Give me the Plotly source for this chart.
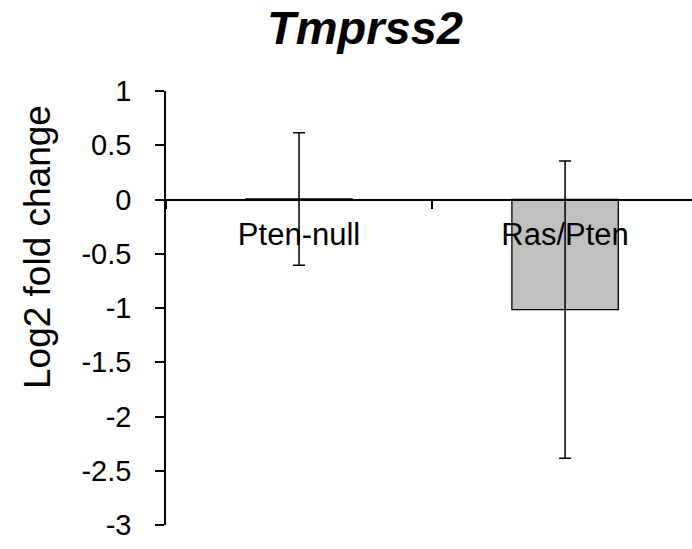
import plotly.graph_objects as go

categories = ["Pten-null", "Ras/Pten"]
values = [0.005, -1.015]
errors = [0.61, 1.37]
y_min, y_max = -3, 1
tick_vals = [1, 0.5, 0, -0.5, -1, -1.5, -2, -2.5, -3]
tick_text = ["1", "0.5", "0", "-0.5", "-1", "-1.5", "-2", "-2.5", "-3"]

FONT = "Arial, Liberation Sans, sans-serif"

W, H = 692, 549
ML, MR, MT, MB = 166, 0, 91, 24
PW, PH = W - ML - MR, H - MT - MB

fig = go.Figure()
fig.add_trace(go.Bar(
    x=categories, y=values, width=0.4,
    marker=dict(color="#C0C0C0", line=dict(color="black", width=1.3)),
    error_y=dict(type="data", array=errors, visible=True,
                 color="black", thickness=1.5, width=6),
    showlegend=False,
))

zero_pos = (0 - y_min) / (y_max - y_min)

fig.update_layout(
    template="none",
    width=W, height=H,
    paper_bgcolor="white", plot_bgcolor="white",
    margin=dict(l=ML, r=MR, t=MT, b=MB),
    font=dict(family=FONT, color="black"),
    title=dict(text="<b><i>Tmprss2</i></b>", font=dict(size=47, family=FONT, color="black"),
               x=365/W, xref="container", xanchor="center",
               y=1 - 28/H, yref="container", yanchor="middle"),
    xaxis=dict(type="category", range=[-0.5, 1.477], anchor="free", position=zero_pos,
               automargin=False,
               showline=True, linecolor="black", linewidth=1.5,
               ticks="outside", tickson="boundaries", ticklen=9, tickwidth=1.5, tickcolor="black",
               tickfont=dict(size=31, family=FONT, color="black"),
               ticklabelstandoff=8,
               showgrid=False, zeroline=False, layer="above traces"),
    yaxis=dict(range=[y_min, y_max], tickvals=tick_vals, ticktext=tick_text,
               automargin=False,
               showline=True, linecolor="black", linewidth=1.5,
               ticks="outside", ticklen=9, tickwidth=1.5, tickcolor="black",
               tickfont=dict(size=29, family=FONT, color="black"),
               ticklabelstandoff=18,
               showgrid=False, zeroline=False),
    annotations=[dict(text="Log2 fold change", textangle=-90, showarrow=False,
                      xref="paper", yref="paper",
                      x=(37 - ML) / PW, y=(H - MB - 247) / PH,
                      xanchor="center", yanchor="middle",
                      font=dict(size=37, family=FONT, color="black"))],
)

fig.write_html("out.html",
               config={"displayModeBar": False},
               post_script="document.body.style.margin='0px';document.body.style.padding='0px';")
